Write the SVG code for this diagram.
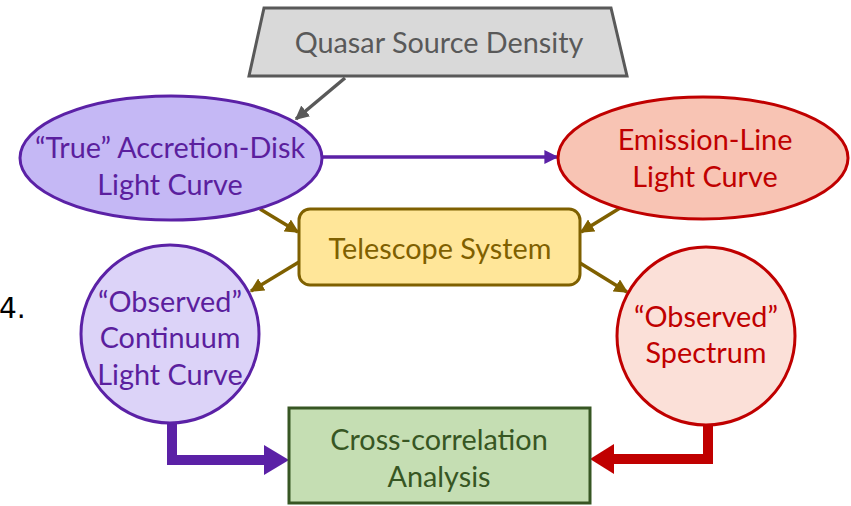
<svg xmlns="http://www.w3.org/2000/svg" width="851" height="506" viewBox="0 0 851 506">
<defs>
<style>
text{font-family:Lato,"Open Sans","Liberation Sans",sans-serif;font-size:28.8px;text-anchor:middle}
.g{fill:#595959}.p{fill:#5b1f9e}.r{fill:#c00000}.o{fill:#7f6000}.gr{fill:#375623}
.thin{fill:none;stroke-width:3.5}
</style>
<marker id="ag" viewBox="0 0 10 10" refX="9" refY="5" markerWidth="4" markerHeight="4" orient="auto" markerUnits="strokeWidth"><path d="M0,0L10,5L0,10z" fill="#595959"/></marker>
<marker id="ap" viewBox="0 0 10 10" refX="9" refY="5" markerWidth="4" markerHeight="4" orient="auto" markerUnits="strokeWidth"><path d="M0,0L10,5L0,10z" fill="#5b21a6"/></marker>
<marker id="ao" viewBox="0 0 10 10" refX="9" refY="5" markerWidth="4" markerHeight="4" orient="auto" markerUnits="strokeWidth"><path d="M0,0L10,5L0,10z" fill="#7f6000"/></marker>
</defs>
<rect width="851" height="506" fill="#fff"/>
<text x="-1" y="318" style="font-family:'DejaVu Sans',sans-serif;text-anchor:start;font-size:28px" fill="#000">4.</text>
<g id="connectors">
<path class="thin" d="M345,78L296,119" stroke="#595959" marker-end="url(#ag)"/>
<path class="thin" d="M322,157L557,157" stroke="#5b21a6" marker-end="url(#ap)"/>
<path class="thin" d="M260,209L298,232" stroke="#7f6000" marker-end="url(#ao)"/>
<path class="thin" d="M620,208L581,232" stroke="#7f6000" marker-end="url(#ao)"/>
<path class="thin" d="M299,262L251,291" stroke="#7f6000" marker-end="url(#ao)"/>
<path class="thin" d="M580,263L627,292" stroke="#7f6000" marker-end="url(#ao)"/>
<path d="M172,423V460H266" fill="none" stroke="#5b21a6" stroke-width="10"/>
<path d="M264,445L289,460L264,475z" fill="#5b21a6"/>
<path d="M708,425V459H612" fill="none" stroke="#c00000" stroke-width="10"/>
<path d="M614,444L590,459L614,474z" fill="#c00000"/>
</g>
<g id="quasar">
<path d="M264,8H611L627,76H249z" fill="#d9d9d9" stroke="#595959" stroke-width="3"/>
<text class="g" x="439" y="53">Quasar Source Density</text>
</g>
<g id="true-lc">
<ellipse cx="171" cy="158" rx="151" ry="62" fill="#c5b8f5" stroke="#5b21a6" stroke-width="3"/>
<text class="p" x="170" y="158">“True” Accretion-Disk</text>
<text class="p" x="170" y="195">Light Curve</text>
</g>
<g id="emission-lc">
<ellipse cx="703" cy="158" rx="145" ry="61" fill="#f8c4b4" stroke="#c00000" stroke-width="3"/>
<text class="r" x="705" y="150">Emission-Line</text>
<text class="r" x="705" y="187">Light Curve</text>
</g>
<g id="telescope">
<rect x="299" y="209" width="281" height="76" rx="11" fill="#ffe699" stroke="#7f6000" stroke-width="3"/>
<text class="o" x="440" y="259">Telescope System</text>
</g>
<g id="obs-continuum">
<circle cx="170" cy="334" r="89" fill="#dcd3f8" stroke="#5b21a6" stroke-width="3"/>
<text class="p" x="170" y="312">“Observed”</text>
<text class="p" x="170" y="348">Continuum</text>
<text class="p" x="170" y="385">Light Curve</text>
</g>
<g id="obs-spectrum">
<circle cx="706" cy="336" r="89" fill="#fbe0d8" stroke="#c00000" stroke-width="3"/>
<text class="r" x="706" y="327">“Observed”</text>
<text class="r" x="706" y="363">Spectrum</text>
</g>
<g id="crosscorr">
<rect x="289" y="408" width="301" height="95" fill="#c5deb3" stroke="#375623" stroke-width="3"/>
<text class="gr" x="439" y="450">Cross-correlation</text>
<text class="gr" x="439" y="487">Analysis</text>
</g>
</svg>
